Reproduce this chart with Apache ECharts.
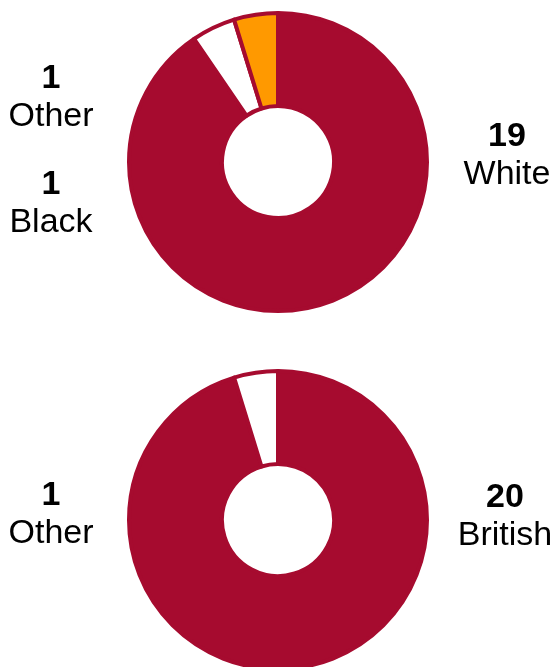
<!DOCTYPE html>
<html>
<head>
<meta charset="utf-8">
<script src="https://cdn.jsdelivr.net/npm/echarts@6/dist/echarts.min.js"></script>
<style>
  html, body { margin: 0; padding: 0; background: #fff; }
  #main { width: 553px; height: 667px; }
</style>
</head>
<body>
<div id="main"></div>
<script>
// ethnicity breakdown
const ethnicityNames = ['White', 'Black', 'Other']
const ethnicityValues = [19, 1, 1]
// nationality breakdown
const nationalityNames = ['British', 'Other']
const nationalityValues = [20, 1]

const crimson = '#a60b2f'
const sliceColors1 = [crimson, '#ffffff', '#ff9900']
const sliceColors2 = [crimson, '#ffffff']

// where each label sits (left / right of the donut)
const labelSpots1 = [[507, 156], [51, 204], [51, 98]]
const labelSpots2 = [[505, 517], [51, 515]]

const font = '"Liberation Sans", Arial, Helvetica, sans-serif'

const makeData = (names, values, colors) =>
  names.map((n, i) => ({ name: n, value: values[i], itemStyle: { color: colors[i] } }))

const labelStyle = {
  show: true,
  position: 'outside',
  formatter: '{v|{c}}\n{n|{b}}',
  align: 'center',
  rich: {
    v: { fontFamily: font, fontWeight: 'bold', fontSize: 34, lineHeight: 38, color: '#000', align: 'center' },
    n: { fontFamily: font, fontSize: 34, lineHeight: 38, color: '#000', align: 'center' }
  }
}

const layoutFor = spots => params => ({
  x: spots[params.dataIndex][0],
  y: spots[params.dataIndex][1],
  align: 'center',
  verticalAlign: 'middle'
})

const chart = echarts.init(document.getElementById('main'))
chart.setOption({
  animation: false,
  backgroundColor: '#fff',
  series: [
    {
      type: 'pie',
      silent: true,
      center: [278, 162],
      radius: [56, 149],
      startAngle: 90,
      clockwise: true,
      avoidLabelOverlap: false,
      itemStyle: { borderColor: crimson, borderWidth: 4 },
      label: labelStyle,
      labelLine: { show: false },
      labelLayout: layoutFor(labelSpots1),
      data: makeData(ethnicityNames, ethnicityValues, sliceColors1)
    },
    {
      type: 'pie',
      silent: true,
      center: [278, 520],
      radius: [56, 149],
      startAngle: 90,
      clockwise: true,
      avoidLabelOverlap: false,
      itemStyle: { borderColor: crimson, borderWidth: 4 },
      label: labelStyle,
      labelLine: { show: false },
      labelLayout: layoutFor(labelSpots2),
      data: makeData(nationalityNames, nationalityValues, sliceColors2)
    }
  ]
})
</script>
</body>
</html>
